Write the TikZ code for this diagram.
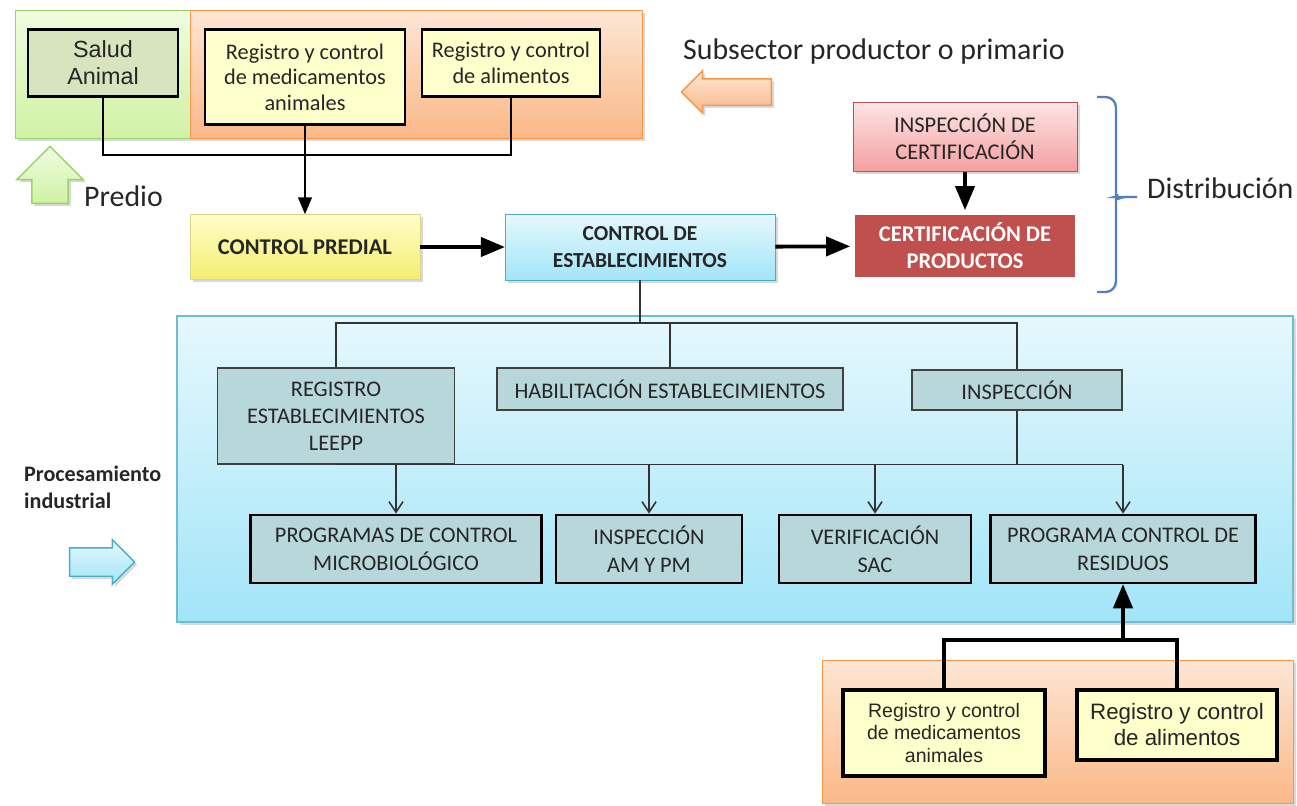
\documentclass[tikz,border=0pt]{standalone}
\usepackage{fontspec}
\setmainfont{Carlito}
\newfontfamily\arialfont{Liberation Sans}
\usepackage{tikz}
\usetikzlibrary{arrows,arrows.meta,shapes.arrows,shadows}

\definecolor{grnlt}{HTML}{EFFCE0}
\definecolor{grndk}{HTML}{D0F2A4}
\definecolor{grnln}{HTML}{9BD36A}
\definecolor{orglt}{HTML}{FDE6D4}
\definecolor{orgdk}{HTML}{FBB888}
\definecolor{orgln}{HTML}{F79646}
\definecolor{saludfill}{HTML}{D7E4BD}
\definecolor{crema}{HTML}{FFFFCC}
\definecolor{amlt}{HTML}{FEFDC8}
\definecolor{amdk}{HTML}{F4EE72}
\definecolor{amln}{HTML}{DDD68A}
\definecolor{azlt}{HTML}{E6F8FD}
\definecolor{azdk}{HTML}{A2E5F8}
\definecolor{azln}{HTML}{4BACC6}
\definecolor{rslt}{HTML}{FDE4E4}
\definecolor{rsdk}{HTML}{F4A0A0}
\definecolor{rojo}{HTML}{C0504D}
\definecolor{llave}{HTML}{4F81BD}
\definecolor{gristeal}{HTML}{B7D7DB}
\definecolor{texto}{HTML}{262626}

\begin{document}
\begin{tikzpicture}[x=0.02cm,y=-0.02cm,
    caja/.style={draw, align=center, inner sep=1pt, text=texto},
    gruesa/.style={caja, line width=1.6pt},
    fina/.style={caja, draw=black!75, line width=0.8pt, fill=gristeal,
      font=\fontsize{12.7}{15.5}\selectfont},
    abajo/.style={gruesa, fill=gristeal, minimum height=1.36cm,
      font=\fontsize{12.7}{16}\selectfont},
    sombra/.style={drop shadow={opacity=0.3, shadow xshift=1.5pt, shadow yshift=-1.5pt}},
    bloque/.style={single arrow, single arrow head extend=0.16cm, inner sep=0.25cm,
      line width=0.8pt, sombra},
    titulo/.style={anchor=west, text=texto, font=\fontsize{17}{20}\selectfont}]
  \useasboundingbox (0,0) rectangle (1297,805);

  % fondos
  \path[draw=grnln, top color=grnlt, bottom color=grndk, sombra] (15,10) rectangle (190,138);
  \path[draw=orgln, top color=orglt, bottom color=orgdk, sombra] (190,10) rectangle (642,138);
  \path[draw=azln!80, line width=0.8pt, top color=azlt, bottom color=azdk, sombra] (177,316) rectangle (1293,622);
  \path[draw=orgln, top color=orglt, bottom color=orgdk, sombra] (822,660) rectangle (1293,803);

  % predio
  \node[gruesa, fill=saludfill, minimum width=3cm, minimum height=1.34cm,
    font=\arialfont\fontsize{13.3}{15.5}\selectfont] (salud) at (103,63) {Salud\\Animal};
  \node[gruesa, fill=crema, minimum width=4cm, minimum height=1.9cm,
    font=\fontsize{12.7}{14.5}\selectfont] (medic) at (305,77) {Registro y control\\de medicamentos\\animales};
  \node[gruesa, fill=crema, minimum width=3.56cm, minimum height=1.34cm,
    font=\fontsize{12.7}{14.5}\selectfont] (alim) at (511,63) {Registro y control\\de alimentos};
  \node[caja, draw=amln, top color=amlt, bottom color=amdk, minimum width=4.6cm, minimum height=1.3cm,
    font=\bfseries\fontsize{12.8}{15}\selectfont, sombra] (predial) at (305,247) {CONTROL PREDIAL};
  \node[caja, draw=azln, top color=azlt, bottom color=azdk, minimum width=5.4cm, minimum height=1.32cm,
    font=\bfseries\fontsize{12.2}{15}\selectfont, sombra] (estab) at (640,247) {CONTROL DE\\ESTABLECIMIENTOS};

  % distribucion
  \node[caja, draw=rojo, top color=rslt, bottom color=rsdk, minimum width=4.48cm, minimum height=1.38cm,
    font=\fontsize{12.8}{15.5}\selectfont, sombra] (inspcert) at (965,137) {INSPECCIÓN DE\\CERTIFICACIÓN};
  \node[caja, fill=rojo, draw=white, line width=3pt, text=white, minimum width=4.5cm, minimum height=1.34cm,
    font=\bfseries\fontsize{12.8}{15.5}\selectfont, sombra] (certprod) at (965,246) {CERTIFICACIÓN DE\\PRODUCTOS};

  % procesamiento industrial
  \node[fina, minimum width=4.74cm, minimum height=1.92cm] (reg) at (336,416) {REGISTRO\\ESTABLECIMIENTOS\\LEEPP};
  \node[fina, minimum width=6.92cm, minimum height=0.84cm] (hab) at (670,389) {HABILITACIÓN ESTABLECIMIENTOS};
  \node[fina, minimum width=4.2cm, minimum height=0.8cm] (insp) at (1017,390) {INSPECCIÓN};
  \node[abajo, minimum width=5.82cm] (prog) at (396,549) {PROGRAMAS DE CONTROL\\MICROBIOLÓGICO};
  \node[abajo, minimum width=3.72cm] (am) at (649,549) {INSPECCIÓN\\AM Y PM};
  \node[abajo, minimum width=3.84cm] (verif) at (875,549) {VERIFICACIÓN\\SAC};
  \node[abajo, minimum width=5.3cm] (resid) at (1123,549) {PROGRAMA CONTROL DE\\RESIDUOS};

  % subsector inferior
  \node[gruesa, line width=2pt, fill=crema, minimum width=4.04cm, minimum height=1.72cm,
    font=\arialfont\fontsize{11.1}{12.8}\selectfont] (bmed) at (944,733) {Registro y control\\de medicamentos\\animales};
  \node[gruesa, line width=2pt, fill=crema, minimum width=4cm, minimum height=1.4cm,
    font=\arialfont\fontsize{12.7}{14.8}\selectfont] (balim) at (1177,725) {Registro y control\\de alimentos};

  % textos y flechas de bloque
  \node[titulo] (subsector) at (677,52) {Subsector productor o primario};
  \node[titulo] (predio) at (78,196) {Predio};
  \node[titulo] (distrib) at (1141,188) {Distribución};
  \node[anchor=north west, align=left, text=texto, font=\bfseries\fontsize{12.6}{15.5}\selectfont]
    (proc) at (18,460) {Procesamiento\\industrial};
  \node[bloque, draw=orgln, top color=orglt, bottom color=orgdk, shape border rotate=180,
    minimum height=1.8cm] (flechaprim) at (733,92) {};
  \node[bloque, draw=grnln, top color=grnlt, bottom color=grndk, shape border rotate=90,
    inner sep=0.35cm, single arrow head extend=0.3cm, minimum height=1.14cm] (flechapredio) at (50,184) {};
  \node[bloque, draw=azln, top color=azlt, bottom color=azdk, inner sep=0.27cm,
    minimum height=1.3cm] (flechaproc) at (95,562) {};
  \coordinate (llavepunta) at (1137,197);
  \draw[llave, line width=1.3pt, rounded corners=6pt]
    (1097,97) -- (1116,97) -- (1116,187) to[out=-90, in=180] (1125,197) -- (llavepunta)
    (1097,292) -- (1116,292) -- (1116,207) to[out=90, in=180] (1125,197);

  % conexiones
  \coordinate (j1) at (305,155);
  \coordinate (bus) at (640,323);
  \coordinate (j3) at (1123,640);
  \draw[line width=1.2pt] (salud.south) |- (j1) -| (alim.south);
  \draw[-triangle 45, line width=1.2pt] (medic.south) -- (predial.north);
  \path[-triangle 45, line width=2.2pt]
    (predial) edge (estab)
    (estab) edge (certprod)
    (inspcert) edge (certprod);
  \draw[black!80, line width=0.9pt] (estab.south) -- (bus)
    (reg.north) |- (insp.north |- bus) -- (insp.north)
    (hab.north) -- (hab.north |- bus)
    (insp.south) -- (insp.south |- reg.south)
    (reg.south) -- (resid.north |- reg.south);
  \path[-{Straight Barb[length=6pt,width=8pt]}, black!80, line width=0.9pt]
    (prog.north |- reg.south) edge (prog.north)
    (am.north |- reg.south) edge (am.north)
    (verif.north |- reg.south) edge (verif.north)
    (resid.north |- reg.south) edge (resid.north);
  \draw[line width=2.2pt] (bmed.north) |- (j3) -| (balim.north);
  \draw[-triangle 45, line width=2.2pt] (j3) -- (resid.south);
\end{tikzpicture}
\end{document}
